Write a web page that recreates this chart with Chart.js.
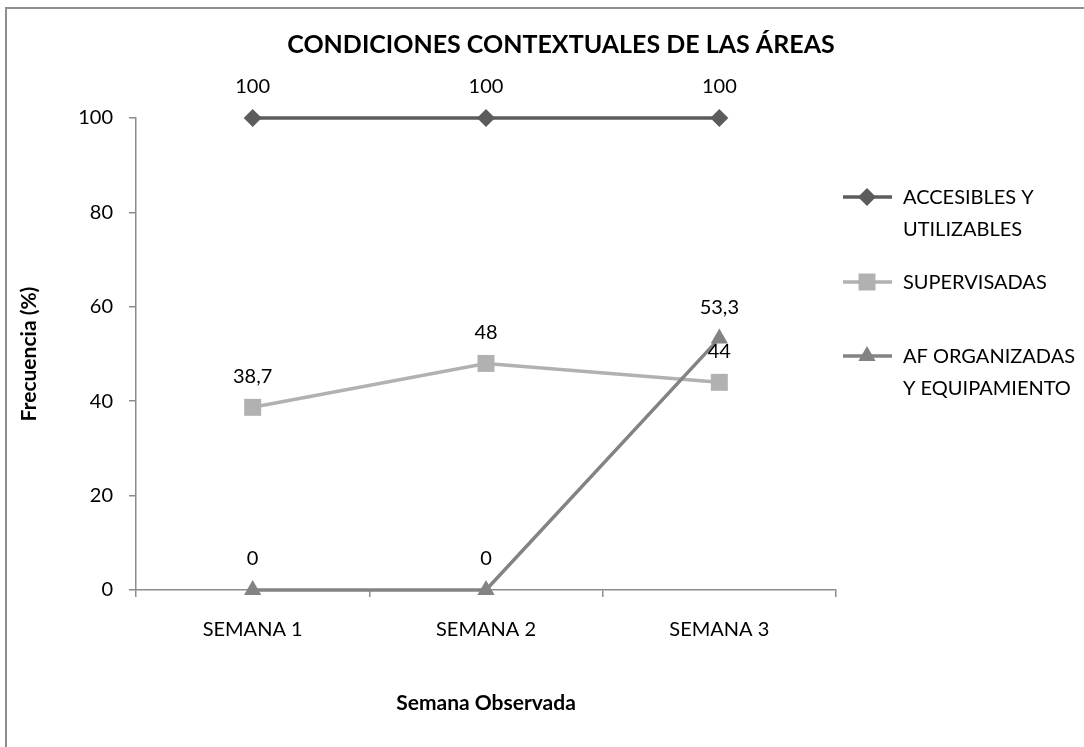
<!DOCTYPE html>
<html>
<head>
<meta charset="utf-8">
<script src="https://cdn.jsdelivr.net/npm/chart.js@4"></script>
<style>
  html, body { margin: 0; padding: 0; background: #fff; overflow: hidden; }
  #wrap { position: relative; width: 1084px; height: 747px; overflow: hidden; }
  #frame { position: absolute; left: 5px; top: 7px; width: 1200px; height: 900px;
           border-left: 2px solid #8e8e8e; border-top: 2px solid #8e8e8e; }
  #chart { position: absolute; left: 0; top: 0; }
</style>
</head>
<body>
<div id="wrap">
  <div id="frame"></div>
  <canvas id="chart" width="1084" height="747"></canvas>
</div>
<script>
const categories = ['SEMANA 1', 'SEMANA 2', 'SEMANA 3'];
const accesibles = [100, 100, 100];
const supervisadas = [38.7, 48, 44];
const afOrganizadas = [0, 0, 53.3];
const yTicks = [0, 20, 40, 60, 80, 100];
const seriesNames = [['ACCESIBLES Y', 'UTILIZABLES'], ['SUPERVISADAS'], ['AF ORGANIZADAS', 'Y EQUIPAMIENTO']];

const FONT = 'Lato, "Open Sans", sans-serif';
const colors = ['#5c5c5c', '#b1b1b1', '#838383'];
const styles = ['rectRot', 'rect', 'triangle'];
const radii = [9, 12, 10];

const fmt = v => String(v).replace('.', ',');

// draws a small marker the same way for legend
function marker(ctx, style, x, y, r, color) {
  ctx.fillStyle = color;
  ctx.beginPath();
  if (style === 'rectRot') {
    ctx.moveTo(x, y - r); ctx.lineTo(x + r, y); ctx.lineTo(x, y + r); ctx.lineTo(x - r, y);
  } else if (style === 'rect') {
    let s = r * Math.SQRT1_2;
    ctx.rect(x - s, y - s, 2 * s, 2 * s);
  } else {
    ctx.moveTo(x, y - r);
    ctx.lineTo(x + r * 0.866, y + r * 0.5);
    ctx.lineTo(x - r * 0.866, y + r * 0.5);
  }
  ctx.closePath();
  ctx.fill();
}

const extras = {
  id: 'extras',
  afterDatasetsDraw(chart) {
    const ctx = chart.ctx;
    ctx.save();
    // data labels
    ctx.font = '20px ' + FONT;
    ctx.fillStyle = '#000';
    ctx.textAlign = 'center';
    ctx.textBaseline = 'middle';
    chart.data.datasets.forEach((ds, i) => {
      chart.getDatasetMeta(i).data.forEach((pt, j) => {
        ctx.fillText(fmt(ds.data[j]), pt.x, pt.y - 31);
      });
    });

    // title
    ctx.font = 'bold 25px ' + FONT;
    ctx.fillText('CONDICIONES CONTEXTUALES DE LAS ÁREAS', 561, 45);

    // legend
    const rows = [197, 282, 356];
    ctx.font = '20px ' + FONT;
    ctx.textAlign = 'left';
    seriesNames.forEach((lines, i) => {
      const y = rows[i];
      ctx.strokeStyle = colors[i];
      ctx.lineWidth = 3.5;
      ctx.beginPath();
      ctx.moveTo(843, y); ctx.lineTo(892, y);
      ctx.stroke();
      marker(ctx, styles[i], 867, y, radii[i], colors[i]);
      ctx.fillStyle = '#000';
      lines.forEach((t, k) => ctx.fillText(t, 903, y + 1 + k * 32));
    });
    ctx.restore();
  }
};

const makeSet = (label, data, i) => ({
  label: label,
  data: data,
  borderColor: colors[i],
  backgroundColor: colors[i],
  borderWidth: 3.5,
  pointStyle: styles[i],
  pointRadius: radii[i],
  pointBorderWidth: 0,
  pointHoverRadius: radii[i],
  tension: 0,
  clip: false,
  order: 2 - i
});

new Chart(document.getElementById('chart'), {
  type: 'line',
  data: {
    labels: categories,
    datasets: [
      makeSet(seriesNames[0].join(' '), accesibles, 0),
      makeSet(seriesNames[1].join(' '), supervisadas, 1),
      makeSet(seriesNames[2].join(' '), afOrganizadas, 2)
    ]
  },
  options: {
    responsive: false,
    animation: false,
    layout: { padding: { top: 118, right: 248, left: 0, bottom: 0 } },
    plugins: {
      legend: { display: false },
      tooltip: { enabled: false },
      title: { display: false }
    },
    scales: {
      x: {
        offset: true,
        grid: { display: true, offset: true, drawOnChartArea: false, drawTicks: true, tickLength: 7, color: '#8c8c8c', lineWidth: 1.5 },
        border: { color: '#8c8c8c', width: 1.5 },
        ticks: { color: '#000', font: { family: FONT, size: 20 }, padding: 21 },
        title: { display: true, text: 'Semana Observada', color: '#000',
                 font: { family: FONT, size: 21, weight: 'bold' }, padding: { top: 0, bottom: 31 } },
        afterFit: s => { s.height = 157; }
      },
      y: {
        min: 0, max: 100,
        afterBuildTicks: s => { s.ticks = yTicks.map(v => ({ value: v })); },
        grid: { display: true, drawOnChartArea: false, drawTicks: true, tickLength: 7, color: '#8c8c8c', lineWidth: 1.5 },
        border: { color: '#8c8c8c', width: 1.5 },
        ticks: { color: '#000', font: { family: FONT, size: 20 }, padding: 16 },
        title: { display: true, text: 'Frecuencia (%)', color: '#000',
                 font: { family: FONT, size: 21, weight: 'bold' }, padding: { top: 17, bottom: 0 } },
        afterFit: s => { s.width = 136; }
      }
    }
  },
  plugins: [extras]
});
</script>
</body>
</html>
